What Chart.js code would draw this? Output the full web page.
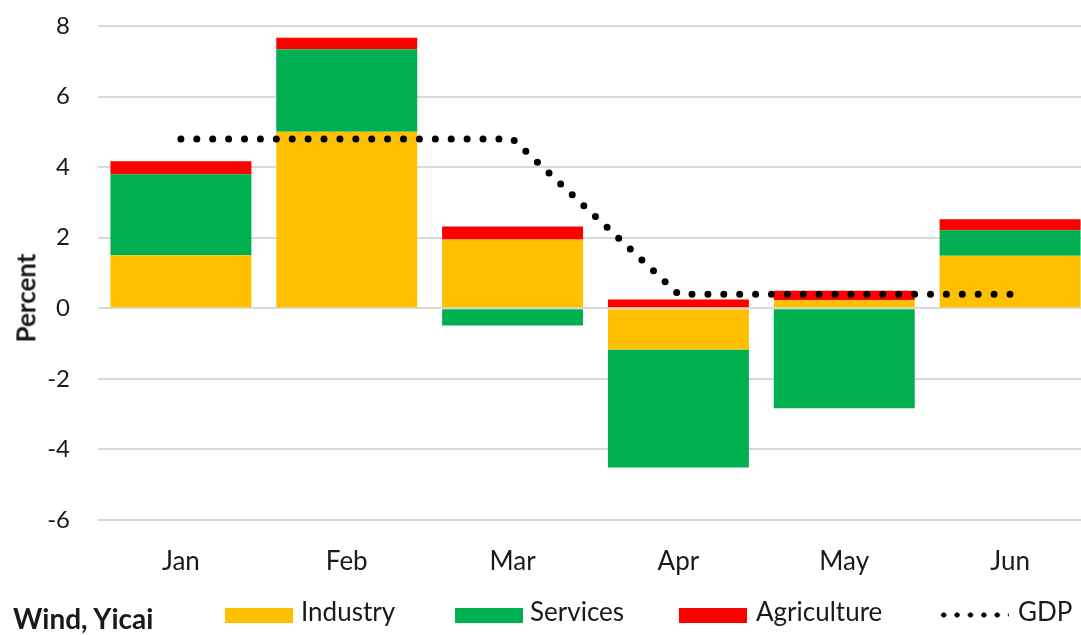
<!DOCTYPE html>
<html><head><meta charset="utf-8">
<script src="https://cdn.jsdelivr.net/npm/chart.js@4.4.0/dist/chart.umd.min.js"></script>
<style>
html,body{margin:0;padding:0;background:#fff;overflow:hidden;width:1081px;height:635px;}
#wrap{position:relative;width:1081px;height:635px;overflow:hidden;}
canvas{position:absolute;left:0;top:0;}
.t{position:absolute;font-family:Lato,sans-serif;color:#1a1a1a;white-space:nowrap;line-height:1.2;}
#ytitle{left:26px;top:298px;font-size:26px;font-weight:bold;transform:translate(-50%,-50%) rotate(-90deg);}
#source{left:13px;top:602px;font-size:28px;font-weight:bold;}
.lg{position:absolute;top:596px;height:32px;font-family:Lato,sans-serif;font-size:26px;line-height:1.2;color:#1a1a1a;white-space:nowrap;}
.sw{position:absolute;left:0;top:12px;width:68px;height:15px;}
.dots{position:absolute;left:0;top:15px;width:72px;height:8px;background-image:radial-gradient(circle,#000 2.3px,rgba(0,0,0,0) 2.9px);background-size:13.4px 8px;background-repeat:repeat-x;}
.lt{position:absolute;top:0;}
</style></head><body>
<div id="wrap">
<canvas id="c" width="1100" height="635"></canvas>
<div id="ytitle" class="t">Percent</div>
<div id="source" class="t">Wind, Yicai</div>
<div id="legend"></div>
</div>
<script>
const categories = ['Jan', 'Feb', 'Mar', 'Apr', 'May', 'Jun'];
const industry = [1.5, 5.0, 1.95, -1.17, 0.23, 1.49];
const services = [2.3, 2.34, -0.49, -3.34, -2.83, 0.72];
const agriculture = [0.37, 0.33, 0.37, 0.25, 0.27, 0.31];
const gdp = [4.8, 4.8, 4.8, 0.4, 0.4, 0.4];
const yTicks = [-6, -4, -2, 0, 2, 4, 6, 8];

const COLORS = {industry: '#FFC000', services: '#00B050', agriculture: '#FF0000', gdp: '#000000'};

Chart.defaults.font.family = 'Lato, sans-serif';
Chart.defaults.color = '#1a1a1a';

const chart = new Chart(document.getElementById('c'), {
  type: 'bar',
  data: {
    labels: categories,
    datasets: [
      {label: 'Industry', data: industry, backgroundColor: COLORS.industry, stack: 's', order: 1},
      {label: 'Services', data: services, backgroundColor: COLORS.services, stack: 's', order: 1},
      {label: 'Agriculture', data: agriculture, backgroundColor: COLORS.agriculture, stack: 's', order: 1},
      {type: 'line', label: 'GDP', data: gdp, borderColor: COLORS.gdp, backgroundColor: COLORS.gdp,
       borderWidth: 7, borderDash: [0, 15.9], borderCapStyle: 'round', pointRadius: 0,
       tension: 0, fill: false, stack: 'gdp', order: 0}
    ]
  },
  options: {
    responsive: false,
    animation: false,
    layout: {padding: {left: 0, right: 7, top: 26, bottom: 0}},
    datasets: {bar: {categoryPercentage: 1.0, barPercentage: 0.85}},
    plugins: {legend: {display: false}, tooltip: {enabled: false}, title: {display: false}},
    scales: {
      x: {
        stacked: true,
        grid: {display: false, drawTicks: false},
        border: {display: false},
        ticks: {font: {size: 26}, padding: 26, color: '#1a1a1a'},
        afterFit: s => { s.height = 115; s.paddingLeft = 0; s.paddingRight = 0; }
      },
      y: {
        stacked: true,
        min: yTicks[0],
        max: yTicks[yTicks.length - 1],
        ticks: {stepSize: yTicks[1] - yTicks[0], font: {size: 24}, padding: 28, color: '#1a1a1a'},
        grid: {color: '#d9d9d9', lineWidth: 2, drawTicks: false},
        border: {display: false},
        afterFit: s => { s.width = 98; s.paddingTop = 0; s.paddingBottom = 0; }
      }
    }
  }
});

// HTML legend built from the chart's datasets
const legendLefts = [225, 455, 679, 937];
const legendTextOffsets = [76, 75, 77, 81];
const lg = document.getElementById('legend');
chart.data.datasets.forEach((ds, i) => {
  const item = document.createElement('div');
  item.className = 'lg';
  item.style.left = legendLefts[i] + 'px';
  const sym = document.createElement('div');
  if (ds.type === 'line') {
    sym.className = 'dots';
  } else {
    sym.className = 'sw';
    sym.style.background = ds.backgroundColor;
  }
  const txt = document.createElement('span');
  txt.className = 'lt';
  txt.style.left = legendTextOffsets[i] + 'px';
  txt.textContent = ds.label;
  item.appendChild(sym);
  item.appendChild(txt);
  lg.appendChild(item);
});
</script>
</body></html>
